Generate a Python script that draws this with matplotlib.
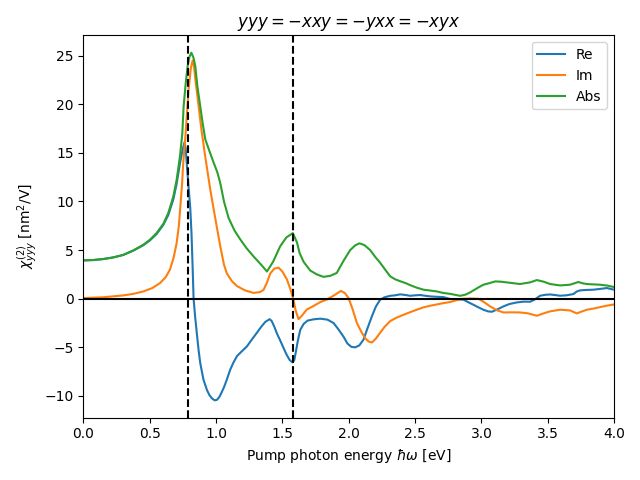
import matplotlib
matplotlib.use("Agg")
import matplotlib.pyplot as plt

energy_re = [0.00, 0.075, 0.15, 0.226, 0.30, 0.377, 0.452, 0.502, 0.552, 0.603, 0.64, 0.678, 0.703,
             0.728, 0.748, 0.763, 0.772, 0.781, 0.795, 0.806, 0.815, 0.823, 0.831,
             0.843, 0.855, 0.868, 0.881, 0.905, 0.932, 0.952, 0.97, 0.99, 1.007, 1.025, 1.04,
             1.06, 1.082, 1.107, 1.13, 1.158, 1.195, 1.233, 1.27, 1.308, 1.34, 1.37,
             1.404, 1.42, 1.44, 1.46, 1.484, 1.51, 1.53, 1.555, 1.577, 1.59, 1.60, 1.617, 1.635,
             1.66, 1.69, 1.735, 1.785, 1.84, 1.886, 1.92, 1.961, 1.99, 2.02,
             2.049, 2.08, 2.112, 2.14, 2.175, 2.205, 2.237, 2.27, 2.313, 2.35, 2.388, 2.43, 2.463,
             2.5, 2.539, 2.58, 2.614, 2.66, 2.714, 2.765, 2.81, 2.865,
             2.90, 2.94, 2.98, 3.015, 3.05, 3.079, 3.12, 3.166, 3.21, 3.267, 3.32, 3.367, 3.40,
             3.443, 3.48, 3.518, 3.555, 3.593, 3.64, 3.693, 3.72, 3.744, 3.79, 3.845,
             3.89, 3.945, 4.0]
re_vals = [3.94, 3.98, 4.08, 4.25, 4.5, 4.95, 5.5, 6.0, 6.65, 7.6, 8.6, 10.2, 11.8,
           13.9, 15.3, 16.1, 15.4, 13.6, 11.2, 9.3, 6.8, 3.6, 0.0,
           -1.9, -3.5, -5.2, -6.6, -8.3, -9.4, -9.95, -10.25, -10.45, -10.4, -10.1, -9.7,
           -9.1, -8.3, -7.3, -6.6, -5.9, -5.4, -4.9, -4.2, -3.5, -2.9, -2.4,
           -2.1, -2.3, -2.9, -3.6, -4.3, -5.1, -5.7, -6.3, -6.55, -6.3, -5.6, -4.3, -3.2,
           -2.6, -2.25, -2.12, -2.05, -2.15, -2.5, -3.1, -3.9, -4.6, -4.95,
           -5.0, -4.8, -4.2, -3.1, -1.8, -0.8, -0.1, 0.15, 0.3, 0.35, 0.45, 0.38, 0.3,
           0.35, 0.38, 0.3, 0.24, 0.2, 0.17, -0.03, -0.05, -0.1,
           -0.35, -0.62, -0.9, -1.13, -1.3, -1.34, -1.1, -0.79, -0.55, -0.38, -0.3, -0.31, -0.1,
           0.31, 0.4, 0.44, 0.38, 0.31, 0.35, 0.48, 0.75, 0.86, 0.9, 0.93,
           1.0, 1.1, 0.93]

energy_im = [0.0, 0.15, 0.30, 0.377, 0.452, 0.52, 0.577, 0.62, 0.653, 0.68, 0.703, 0.72, 0.733, 0.745,
             0.753, 0.768, 0.78, 0.793, 0.81, 0.824, 0.835, 0.845, 0.869, 0.89,
             0.919, 0.957, 0.994, 1.032, 1.06, 1.082, 1.12, 1.158, 1.22, 1.283, 1.33, 1.358, 1.385,
             1.409, 1.44, 1.471, 1.50, 1.534, 1.56, 1.584, 1.60, 1.622, 1.65, 1.685, 1.735, 1.785,
             1.84, 1.89, 1.941, 1.97, 1.999, 2.03, 2.062, 2.095, 2.124, 2.15, 2.175, 2.205, 2.237,
             2.27, 2.313, 2.36, 2.413, 2.46, 2.513, 2.56, 2.614, 2.66, 2.714, 2.765, 2.82, 2.865,
             2.92, 2.978, 3.02, 3.066, 3.12, 3.166, 3.23, 3.29, 3.35, 3.418, 3.47, 3.518,
             3.593, 3.668, 3.719, 3.75, 3.795, 3.85, 3.895, 3.95, 4.0]
im_vals = [0.07, 0.15, 0.34, 0.5, 0.75, 1.1, 1.6, 2.2, 3.0, 4.2, 5.7, 7.5, 9.8, 12.0,
           14.0, 16.4, 18.8, 21.5, 23.7, 24.5, 23.8, 22.5, 19.8, 17.4,
           14.6, 11.2, 8.3, 5.4, 3.5, 2.6, 1.8, 1.3, 0.85, 0.6, 0.68, 0.9, 1.7,
           2.6, 3.1, 3.2, 2.8, 2.0, 1.0, -0.1, -1.2, -2.1, -1.7, -1.1, -0.75, -0.35,
           -0.05, 0.35, 0.8, 0.6, 0.07, -1.1, -2.5, -3.4, -4.05, -4.4, -4.5, -4.1, -3.5,
           -2.9, -2.3, -1.95, -1.65, -1.4, -1.13, -0.9, -0.72, -0.6, -0.45, -0.34, -0.12, 0.0,
           0.02, 0.0, -0.35, -0.79, -1.2, -1.41, -1.4, -1.41, -1.5, -1.75, -1.5, -1.3,
           -1.13, -1.2, -1.51, -1.35, -1.13, -1.0, -0.86, -0.7, -0.59]

energy_abs = [0.0, 0.075, 0.15, 0.226, 0.30, 0.377, 0.452, 0.502, 0.552, 0.603, 0.64, 0.678, 0.703,
              0.728, 0.746, 0.756, 0.772, 0.786, 0.80, 0.814, 0.83, 0.844, 0.86,
              0.881, 0.90, 0.919, 0.95, 0.982, 1.01, 1.032, 1.06, 1.095, 1.14, 1.183, 1.23, 1.283,
              1.34, 1.384, 1.43, 1.484, 1.53, 1.579, 1.61, 1.63, 1.66, 1.71, 1.76,
              1.81, 1.86, 1.91, 1.961, 2.011, 2.05, 2.082, 2.12, 2.162, 2.2, 2.237, 2.28, 2.313,
              2.35, 2.388, 2.43, 2.463, 2.51, 2.563, 2.61, 2.664, 2.71, 2.765,
              2.84, 2.88, 2.915, 2.97, 3.015, 3.06, 3.104, 3.15, 3.19, 3.24, 3.29, 3.367, 3.418, 3.47,
              3.518, 3.593, 3.668, 3.731, 3.76, 3.795, 3.85, 3.895, 3.95, 4.0]
abs_vals = [3.94, 3.98, 4.08, 4.25, 4.5, 4.97, 5.55, 6.07, 6.75, 7.7, 8.8, 10.5, 12.2,
            14.6, 17.0, 19.8, 22.2, 23.9, 24.9, 25.3, 24.8, 23.9, 21.8,
            19.8, 18.0, 16.4, 15.2, 14.0, 13.0, 11.9, 10.0, 8.3, 7.0, 6.1, 5.2, 4.35,
            3.5, 2.8, 3.8, 5.4, 6.3, 6.75, 5.8, 4.7, 3.8, 2.9, 2.5,
            2.25, 2.35, 2.65, 3.9, 5.0, 5.5, 5.7, 5.5, 5.0, 4.3, 3.7, 2.9, 2.3,
            2.0, 1.8, 1.6, 1.4, 1.15, 0.93, 0.85, 0.75, 0.6, 0.5,
            0.3, 0.42, 0.65, 1.1, 1.44, 1.6, 1.78, 1.75, 1.68, 1.6, 1.51, 1.68, 1.92, 1.75,
            1.51, 1.37, 1.44, 1.72, 1.6, 1.51, 1.47, 1.44, 1.35, 1.2]

marker_energies = [0.79, 1.58]

fig, ax = plt.subplots(figsize=(6.4, 4.8), dpi=100)
ax.plot(energy_re, re_vals, label="Re")
ax.plot(energy_im, im_vals, label="Im")
ax.plot(energy_abs, abs_vals, label="Abs")
ax.axhline(0, color="k", lw=1.5)
for e in marker_energies:
    ax.axvline(e, color="k", ls="--", lw=1.5)
ax.set_xlim(0, 4)
ax.set_title(r"$yyy=-xxy=-yxx=-xyx$")
ax.set_xlabel(r"Pump photon energy $\hbar\omega$ [eV]")
ax.set_ylabel(r"$\chi^{(2)}_{yyy}$ [nm$^2$/V]")
ax.legend(loc="upper right")
fig.tight_layout()
fig.savefig("out.png")
